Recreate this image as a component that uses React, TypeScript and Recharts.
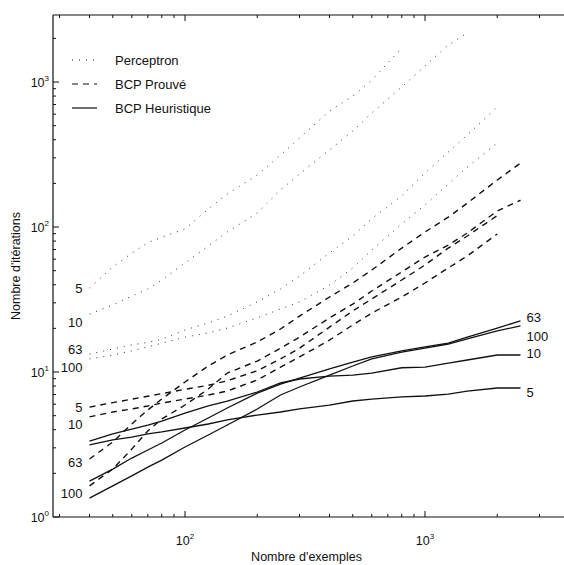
import React from 'react';
import { LineChart, Line, XAxis, YAxis } from 'recharts';

// Nombre d'exemples (axe x, log)
const exemples = [40, 50, 60, 70, 80, 100, 125, 150, 200, 250, 300, 400, 500, 600, 800, 1000, 1250, 1500, 2000, 2500];

// Perceptron (pointillés)
const perceptron5 = [38, 53, 66, 78, 85, 97, 133, 169, 228, 314, 411, 631, 800, 1030, 1716, null, null, null, null, null];
const perceptron10 = [25.1, 29, 33.4, 37.4, 43.1, 56.5, 74, 92.4, 125, 180, 232, 340, 459, 611, 924, 1290, 1800, 2180, null, null];
const perceptron63 = [13.3, 14.4, 15.4, 16.0, 16.8, 19.5, 21.8, 24.3, 30.4, 37.4, 45.9, 66.2, 86.7, 114, 164, 236, 329, 431, 672, null];
const perceptron100 = [12.3, 13.1, 14.0, 14.9, 15.8, 17.4, 18.6, 20.1, 23.6, 27.2, 30.4, 39.8, 52.2, 69.4, 105, 142, 198, 259, 380, null];

// BCP Prouvé (tirets)
const prouve5 = [5.73, 6.15, 6.5, 6.8, 7.1, 7.6, 8.1, 8.7, 10.2, 12.3, 14.6, 20.4, 26.4, 31.9, 43.1, 54.7, 71.6, 86.7, 120, null];
const prouve10 = [4.9, 5.3, 5.56, 5.83, 6.11, 6.51, 6.94, 7.39, 8.81, 10.8, 12.7, 16.6, 21.1, 25.5, 32.9, 41.1, 52.2, 63.1, 89.5, null];
const prouve63 = [2.51, 3.29, 4.38, 5.47, 6.51, 8.53, 11.0, 13.1, 16.1, 19.8, 24.3, 32.9, 41.1, 50.5, 71.6, 92.4, 117, 146, 211, 276];
const prouve100 = [1.64, 2.14, 2.94, 3.92, 4.74, 5.92, 7.63, 9.84, 11.9, 14.6, 17.4, 23.6, 29.4, 36.2, 49, 62.1, 75.1, 90.9, 129, 153];

// BCP Heuristique (trait plein)
const heuristique5 = [3.14, 3.4, 3.56, 3.74, 3.86, 4.11, 4.38, 4.67, 5.05, 5.3, 5.56, 5.92, 6.31, 6.51, 6.73, 6.83, 7.05, 7.39, 7.76, 7.76];
const heuristique10 = [3.34, 3.74, 4.04, 4.31, 4.59, 5.21, 5.83, 6.31, 7.28, 8.4, 8.95, 9.38, 9.53, 9.84, 10.7, 10.8, 11.5, 12.1, 13.1, 13.1];
const heuristique63 = [1.77, 2.14, 2.55, 2.9, 3.24, 3.98, 4.82, 5.65, 7.16, 8.26, 9.09, 10.5, 11.7, 12.7, 14.0, 14.9, 15.8, 17.4, 20.1, 22.5];
const heuristique100 = [1.35, 1.64, 1.92, 2.21, 2.47, 3.04, 3.68, 4.31, 5.56, 6.94, 7.88, 9.53, 11.0, 12.3, 13.7, 14.6, 15.6, 16.9, 19.2, 20.8];

// ticks
const xMajors = [100, 1000];
const xTicks = [30, 40, 50, 60, 70, 80, 90, 100, 200, 300, 400, 500, 600, 700, 800, 900, 1000, 2000, 3000];
const yMajors = [1, 10, 100, 1000];
const yTicks = [1, 2, 3, 4, 5, 6, 7, 8, 9, 10, 20, 30, 40, 50, 60, 70, 80, 90, 100, 200, 300, 400, 500, 600, 700, 800, 900, 1000, 2000];

const legendItems = [
  { name: 'Perceptron', dash: '1 6' },
  { name: 'BCP Prouvé', dash: '6 5' },
  { name: 'BCP Heuristique', dash: undefined },
];

const rows = exemples.map((x, i) => ({
  x,
  p5: perceptron5[i], p10: perceptron10[i], p63: perceptron63[i], p100: perceptron100[i],
  d5: prouve5[i], d10: prouve10[i], d63: prouve63[i], d100: prouve100[i],
  h5: heuristique5[i], h10: heuristique10[i], h63: heuristique63[i], h100: heuristique100[i],
}));

const INK = '#111';
const FONT = '"Liberation Sans", Arial, Helvetica, sans-serif';

const Pow10 = ({ x, y, v, anchor }: any) => (
  <text x={x} y={y} textAnchor={anchor} fontSize={12.5} fill={INK} fontFamily={FONT}>
    10<tspan dy={-6} fontSize={8}>{Math.round(Math.log10(v))}</tspan>
  </text>
);

const BottomTick = ({ x, y, payload }: any) => {
  const major = xMajors.includes(payload.value);
  return (
    <g>
      <line x1={x} y1={y} x2={x} y2={y - (major ? 6 : 3)} stroke={INK} />
      {major && <Pow10 x={x} y={y + 28} v={payload.value} anchor="middle" />}
    </g>
  );
};

const TopTick = ({ x, y, payload }: any) => {
  const major = xMajors.includes(payload.value);
  return <line x1={x} y1={y} x2={x} y2={y + (major ? 6 : 3)} stroke={INK} />;
};

const LeftTick = ({ x, y, payload }: any) => {
  const major = yMajors.includes(payload.value);
  return (
    <g>
      <line x1={x} y1={y} x2={x + (major ? 6 : 3)} y2={y} stroke={INK} />
      {major && <Pow10 x={x - 4} y={y + 5} v={payload.value} anchor="end" />}
    </g>
  );
};

// text label at the start (left) or end (right) of a curve
const curveLabel = (text: string, index: number, side: 'left' | 'right', dy: number) => (props: any) => {
  if (props.index !== index || props.y == null || props.x == null) return null;
  const left = side === 'left';
  return (
    <text
      x={left ? props.x - 7 : props.x + 6}
      y={props.y + dy + 5}
      textAnchor={left ? 'end' : 'start'}
      fontSize={13}
      fill={INK}
      fontFamily={FONT}
    >
      {text}
    </text>
  );
};

const last = exemples.length - 1;

export default function App() {
  return (
    <div style={{ position: 'absolute', left: 0, top: 0, width: 564, height: 565, overflow: 'hidden', background: '#fff', fontFamily: FONT }}>
      <LineChart width={580} height={565} data={rows} margin={{ top: 14, right: 10, bottom: 47, left: 52 }}>
        <XAxis
          dataKey="x"
          type="number"
          scale="log"
          domain={[28.18, 4020]}
          allowDataOverflow
          ticks={xTicks}
          interval={0}
          height={1}
          tickSize={0}
          tickMargin={0}
          tickLine={false}
          tick={<BottomTick />}
          axisLine={{ stroke: INK, strokeWidth: 1.2 }}
          label={{
            content: (p: any) => (
              <text x={p.viewBox.x + p.viewBox.width / 2 - 5} y={p.viewBox.y + 44} textAnchor="middle" fontSize={12.5} fill={INK} fontFamily={FONT}>
                Nombre d'exemples
              </text>
            ),
          }}
        />
        <XAxis
          xAxisId="top"
          orientation="top"
          dataKey="x"
          type="number"
          scale="log"
          domain={[28.18, 4020]}
          allowDataOverflow
          ticks={xTicks}
          interval={0}
          height={1}
          tickSize={0}
          tickMargin={0}
          tickLine={false}
          tick={<TopTick />}
          axisLine={{ stroke: INK, strokeWidth: 1.2 }}
        />
        <YAxis
          type="number"
          scale="log"
          domain={[1, 2900]}
          allowDataOverflow
          ticks={yTicks}
          interval={0}
          width={1}
          tickSize={0}
          tickMargin={0}
          tickLine={false}
          tick={<LeftTick />}
          axisLine={{ stroke: INK, strokeWidth: 1.2 }}
          label={{
            content: (p: any) => {
              const cx = p.viewBox.x - 35;
              const cy = p.viewBox.y + p.viewBox.height / 2;
              return (
                <text x={cx} y={cy} transform={`rotate(-90 ${cx} ${cy})`} textAnchor="middle" dominantBaseline="middle" fontSize={12.5} fill={INK} fontFamily={FONT}>
                  Nombre d'itérations
                </text>
              );
            },
          }}
        />

        <Line dataKey="p5" stroke="#333" strokeWidth={1} strokeDasharray="1 6" dot={false} isAnimationActive={false} label={curveLabel('5', 0, 'left', 0)} />
        <Line dataKey="p10" stroke="#333" strokeWidth={1} strokeDasharray="1 6" dot={false} isAnimationActive={false} label={curveLabel('10', 0, 'left', 8)} />
        <Line dataKey="p63" stroke="#333" strokeWidth={1} strokeDasharray="1 6" dot={false} isAnimationActive={false} label={curveLabel('63', 0, 'left', -5)} />
        <Line dataKey="p100" stroke="#333" strokeWidth={1} strokeDasharray="1 6" dot={false} isAnimationActive={false} label={curveLabel('100', 0, 'left', 8)} />

        <Line dataKey="d5" stroke={INK} strokeWidth={1.4} strokeDasharray="6 5" dot={false} isAnimationActive={false} label={curveLabel('5', 0, 'left', 0)} />
        <Line dataKey="d10" stroke={INK} strokeWidth={1.4} strokeDasharray="6 5" dot={false} isAnimationActive={false} label={curveLabel('10', 0, 'left', 7)} />
        <Line dataKey="d63" stroke={INK} strokeWidth={1.4} strokeDasharray="6 5" dot={false} isAnimationActive={false} label={curveLabel('63', 0, 'left', 3)} />
        <Line dataKey="d100" stroke={INK} strokeWidth={1.4} strokeDasharray="6 5" dot={false} isAnimationActive={false} label={curveLabel('100', 0, 'left', 7)} />

        <Line dataKey="h5" stroke={INK} strokeWidth={1.3} dot={false} isAnimationActive={false} label={curveLabel('5', last, 'right', 4)} />
        <Line dataKey="h10" stroke={INK} strokeWidth={1.3} dot={false} isAnimationActive={false} label={curveLabel('10', last, 'right', -2)} />
        <Line dataKey="h63" stroke={INK} strokeWidth={1.3} dot={false} isAnimationActive={false} label={curveLabel('63', last, 'right', -4)} />
        <Line dataKey="h100" stroke={INK} strokeWidth={1.3} dot={false} isAnimationActive={false} label={curveLabel('100', last, 'right', 10)} />
      </LineChart>
      <svg width={200} height={80} style={{ position: 'absolute', left: 60, top: 45 }}>
        {legendItems.map((it, i) => (
          <g key={it.name}>
            <line x1={12} x2={37} y1={15 + i * 24} y2={15 + i * 24} stroke={INK} strokeWidth={1.2} strokeDasharray={it.dash} />
            <text x={55} y={20 + i * 24} fontSize={13} fill={INK} fontFamily={FONT}>{it.name}</text>
          </g>
        ))}
      </svg>
    </div>
  );
}
